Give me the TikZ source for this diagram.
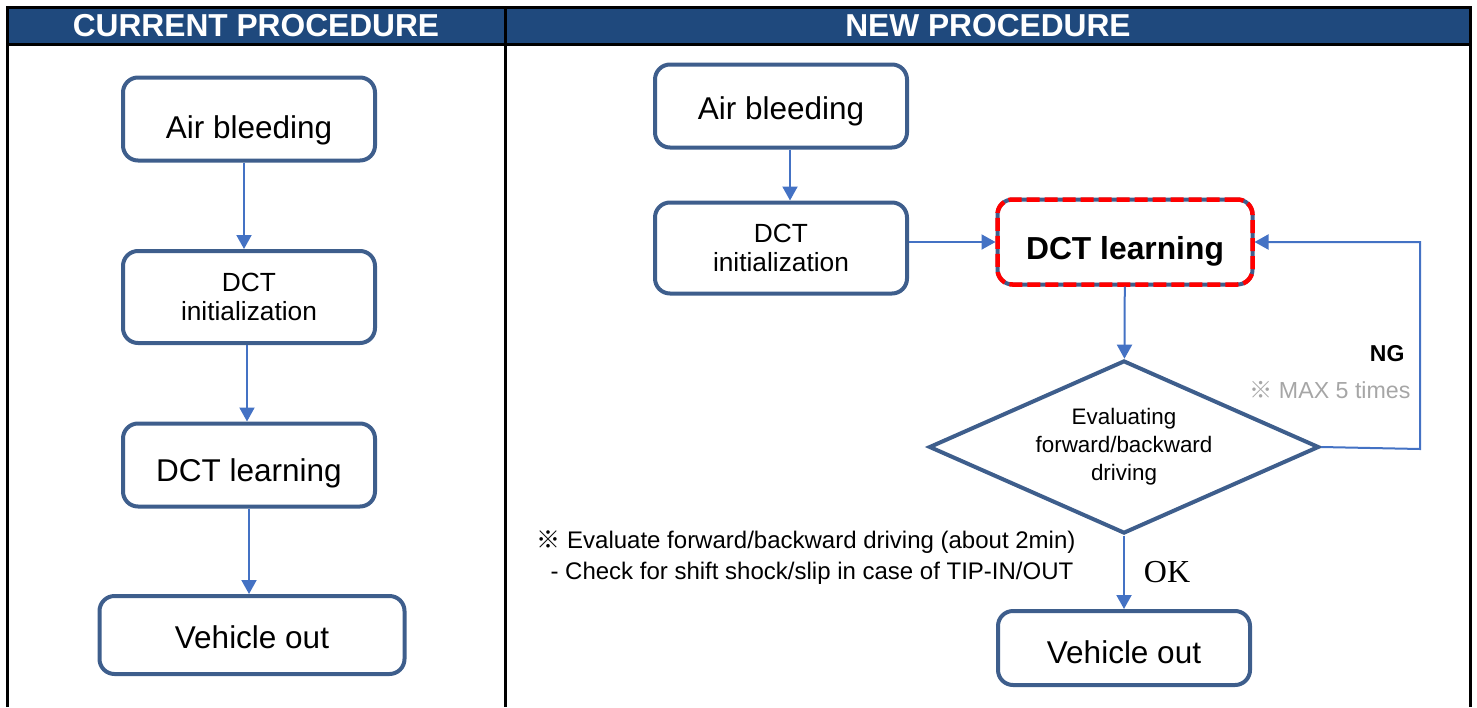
\documentclass[tikz,border=0pt]{standalone}
\usepackage{fontspec}
\setmainfont{Liberation Sans}
\newfontfamily\cjkfont{Noto Sans CJK SC}
\newfontfamily\okfont{Liberation Serif}
\usetikzlibrary{shapes.geometric, arrows.meta}
\definecolor{boxblue}{RGB}{62,94,140}
\definecolor{linkblue}{RGB}{68,114,196}
\definecolor{headblue}{RGB}{31,73,125}
\definecolor{notegray}{RGB}{166,166,166}
\tikzset{
  procbox/.style = {shape=rectangle, rounded corners=15pt,
                    draw=boxblue, line width=4pt, align=center,
                    fill=white, font=\fontsize{31.5}{38}\selectfont},
  smallbox/.style = {procbox, font=\fontsize{26.3}{29}\selectfont},
  keybox/.style   = {procbox, font=\bfseries\fontsize{31.8}{38}\selectfont,
                     postaction={draw=red, line width=4.5pt,
                                 dash pattern=on 13pt off 5pt}},
  decbox/.style   = {shape=diamond, draw=boxblue, line width=4pt,
                     align=center, inner sep=0pt,
                     font=\fontsize{22.4}{28}\selectfont},
  drop/.style     = {text height=#1, text depth=7pt},
  head/.style     = {text=white, font=\bfseries\fontsize{31.7}{38}\selectfont},
  link/.style     = {draw=linkblue, line width=2pt,
                     -{Triangle[length=14pt,width=15pt]}},
  tableline/.style = {draw=black, line width=3pt}
}
\begin{document}
\begin{tikzpicture}[x=1pt, y=-1pt]
  \useasboundingbox (0,0) rectangle (1477,707);

  % table
  \fill[headblue] (7,7) rectangle (1470,44);
  \draw[tableline] (7,707) -- (7,7) -- (1470,7) -- (1470,707);
  \draw[tableline] (7,44) -- (1470,44);
  \draw[tableline] (505,7) -- (505,707);
  \node[head] (curhead) at (256,26) {CURRENT PROCEDURE};
  \node[head] (newhead) at (988,26) {NEW PROCEDURE};

  % current procedure
  \node[procbox, drop=45pt, minimum width=252pt, minimum height=83pt] (airL) at (249,119) {Air bleeding};
  \node[smallbox, minimum width=252pt, minimum height=92pt] (initL) at (249,297) {DCT\\initialization};
  \node[procbox, drop=39pt, minimum width=252pt, minimum height=83pt] (learnL) at (249,465) {DCT learning};
  \node[procbox, drop=34pt, minimum width=305pt, minimum height=78pt] (outL) at (252,635) {Vehicle out};

  \draw[link] ([xshift=-5pt]airL.south) -- ([xshift=-5pt]initL.north);
  \draw[link] ([xshift=-2pt]initL.south) -- ([xshift=-2pt]learnL.north);
  \draw[link] (learnL.south) -- (learnL.south |- outL.north);

  % new procedure
  \node[procbox, drop=33pt, minimum width=252pt, minimum height=83pt] (airR) at (781,106) {Air bleeding};
  \node[smallbox, minimum width=252pt, minimum height=91pt] (initR) at (781,248) {DCT\\initialization};
  \node[keybox, drop=42pt, minimum width=255pt, minimum height=85pt] (learnR) at (1125,242) {DCT learning};
  \node[decbox, minimum width=390pt, minimum height=173pt, aspect=2.25] (evalR) at (1124,447)
    {Evaluating\\forward/backward\\driving};
  \node[procbox, drop=37pt, minimum width=252pt, minimum height=74pt] (outR) at (1124,648) {Vehicle out};

  \coordinate (loop) at (1420,449);
  \draw[link] ([xshift=9pt]airR.south) -- ([xshift=9pt]initR.north);
  \draw[link] (initR.east |- learnR) -- (learnR.west);
  \draw[link] (learnR) -- (evalR);
  \draw[link] (evalR.east) -- (loop) |- (learnR.east);
  \draw[link] (evalR) -- (outR);

  \node[anchor=east, font=\bfseries\fontsize{23}{28}\selectfont] (ng) at (1408,354) {NG};
  \node[anchor=east, text=notegray, font=\fontsize{23.2}{28}\selectfont] (maxtimes) at (1414,390)
    {{\cjkfont ※} MAX 5 times};
  \node[font=\okfont\fontsize{32}{36}\selectfont] (ok) at (1167,572) {OK};
  \node[anchor=west, align=left, font=\fontsize{24}{31}\selectfont] (note) at (533,558)
    {{\cjkfont ※} Evaluate forward/backward driving (about 2min)\\
     \hspace*{14pt}- Check for shift shock/slip in case of TIP-IN/OUT};
\end{tikzpicture}
\end{document}
